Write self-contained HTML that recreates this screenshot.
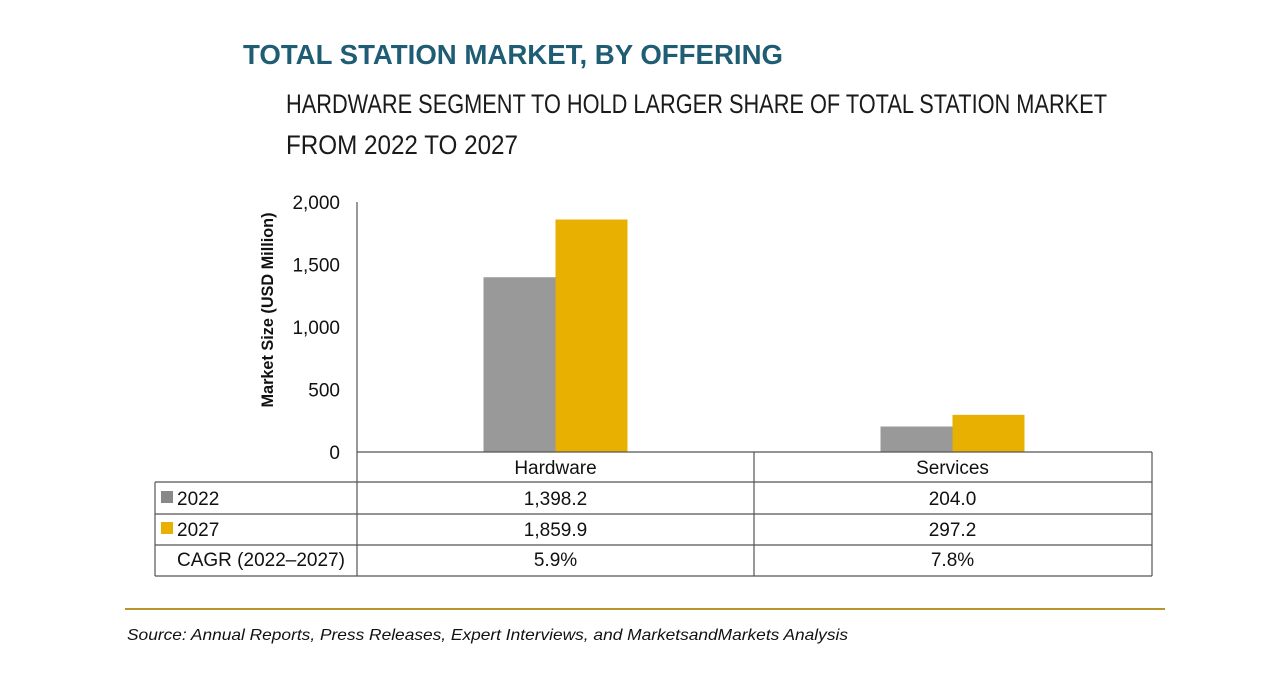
<!DOCTYPE html>
<html><head><meta charset="utf-8"><style>
body{margin:0;background:#fff;width:1280px;height:670px;overflow:hidden;font-family:"Liberation Sans",sans-serif}
</style></head><body>
<svg width="1280" height="670" xmlns="http://www.w3.org/2000/svg">
<text x="243" y="64" textLength="540" lengthAdjust="spacingAndGlyphs" font-weight="bold" font-size="28" fill="#1f5d75">TOTAL STATION MARKET, BY OFFERING</text>
<text x="286" y="113" textLength="821" lengthAdjust="spacingAndGlyphs" font-size="27" fill="#1a1a1a">HARDWARE SEGMENT TO HOLD LARGER SHARE OF TOTAL STATION MARKET</text>
<text x="286" y="154" textLength="232" lengthAdjust="spacingAndGlyphs" font-size="27" fill="#1a1a1a">FROM 2022 TO 2027</text>
<text transform="translate(273,310) rotate(-90)" text-anchor="middle" textLength="195" lengthAdjust="spacingAndGlyphs" font-weight="bold" font-size="17" fill="#111">Market Size (USD Million)</text>
<g id="plot"></g>
<line x1="125" y1="609" x2="1165" y2="609" stroke="#b8952e" stroke-width="2"/>
<text x="127" y="640" textLength="721" lengthAdjust="spacingAndGlyphs" font-style="italic" font-size="16" fill="#111">Source: Annual Reports, Press Releases, Expert Interviews, and MarketsandMarkets Analysis</text>
</svg>
<script>
const categories=["Hardware","Services"];
const values2022=[1398.2,204.0];
const values2027=[1859.9,297.2];
const cagr=["5.9%","7.8%"];
const labels2022=["1,398.2","204.0"];
const labels2027=["1,859.9","297.2"];
const yTicks=[0,500,1000,1500,2000];
const yTickLabels=["0","500","1,000","1,500","2,000"];
const NS="http://www.w3.org/2000/svg";
const g=document.getElementById('plot');
const x0=357,colW=397,yBase=452,yTop=202,yMax=2000;
const y=v=>yBase-(v/yMax)*(yBase-yTop);
const cx=i=>x0+colW*i+colW/2;
function mk(t,a,txt){const e=document.createElementNS(NS,t);for(const k in a)e.setAttribute(k,a[k]);if(txt!==undefined)e.textContent=txt;g.appendChild(e);return e;}
yTicks.forEach((v,i)=>{const e=mk('text',{x:340,y:y(v)+7,'text-anchor':'end','font-size':19,fill:'#111'},yTickLabels[i]);

});
categories.forEach((c,i)=>{
 const b1=mk('rect',{x:cx(i)-72,y:y(values2022[i]),width:72,height:yBase-y(values2022[i]),fill:'#999'});
 
 
 const b2=mk('rect',{x:cx(i),y:y(values2027[i]),width:72,height:yBase-y(values2027[i]),fill:'#e8b000'});
 
 
});
const rows=[482,514,545,576];
const L=(a,b,c,d,n)=>{const e=mk('line',{x1:a,y1:b,x2:c,y2:d,stroke:'#555','stroke-width':1.2});

};
L(x0,yTop,x0,576,'y-axis-line');
L(x0,yBase,1152,yBase,'x-axis-line');
rows.forEach(r=>L(155,r,1152,r,'table-row-line'));
L(155,482,155,576,'table-left-border');
L(754,yBase,754,576,'table-col-divider');
L(1152,yBase,1152,576,'table-right-border');
const T=(x,yy,t,n,anchor)=>{const e=mk('text',{x:x,y:yy,'text-anchor':anchor||'middle','font-size':19,fill:'#111'},t);

return e;};
categories.forEach((c,i)=>{T(cx(i),474,c,'category-label');T(cx(i),505,labels2022[i],'cell-2022');T(cx(i),536,labels2027[i],'cell-2027');T(cx(i),566,cagr[i],'cell-cagr');});
const s1=mk('rect',{x:161,y:491,width:12,height:12,fill:'#888'});


const s2=mk('rect',{x:161,y:522,width:12,height:12,fill:'#e8b000'});


T(177,505,'2022','legend-entry-2022','start');
T(177,536,'2027','legend-entry-2027','start');
T(177,566,'CAGR (2022–2027)','cagr-row-label','start');
</script>
</body></html>
